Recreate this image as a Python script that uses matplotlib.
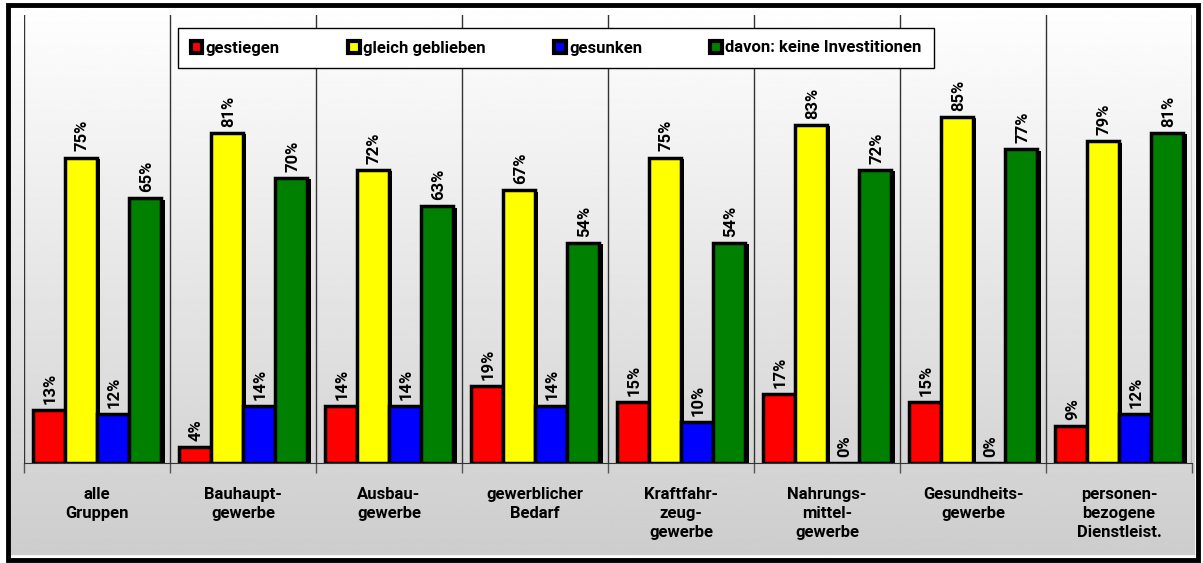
import matplotlib.pyplot as plt
import matplotlib.patheffects as pe
import numpy as np
from matplotlib.patches import Rectangle, Patch

plt.rcParams['font.family'] = ['Roboto', 'DejaVu Sans']
plt.rcParams['font.weight'] = 'bold'

categories = ['alle\nGruppen', 'Bauhaupt-\ngewerbe', 'Ausbau-\ngewerbe', 'gewerblicher\nBedarf',
              'Kraftfahr-\nzeug-\ngewerbe', 'Nahrungs-\nmittel-\ngewerbe', 'Gesundheits-\ngewerbe',
              'personen-\nbezogene\nDienstleist.']
series_names = ['gestiegen', 'gleich geblieben', 'gesunken', 'davon: keine Investitionen']
gestiegen = [13, 4, 14, 19, 15, 17, 15, 9]
gleich = [75, 81, 72, 67, 75, 83, 85, 79]
gesunken = [12, 14, 14, 14, 10, 0, 0, 12]
keine_inv = [65, 70, 63, 54, 54, 72, 77, 81]
colors = ['#ff0000', '#ffff00', '#0000ff', '#008000']

fig = plt.figure(figsize=(12.03, 5.63), dpi=100)

# background gradient over the whole figure
bg = fig.add_axes([0, 0, 1, 1], zorder=-10)
grad = np.linspace(1.0, 0.80, 256).reshape(-1, 1)
bg.imshow(grad, cmap='gray', vmin=0, vmax=1, aspect='auto', extent=[0, 1, 0, 1])
bg.set_xlim(0, 1)
bg.set_ylim(0, 1)
bg.axis('off')
# white margin outside frame + thick frame
bg.add_patch(Rectangle((0, 0), 1, 1, fill=False, ec='white', lw=12, transform=bg.transAxes))
bg.add_patch(Rectangle((8/1203, 3/563), 1190/1203, 555/563, fill=False, ec='black', lw=3.5,
                       transform=bg.transAxes))

ax = fig.add_axes([24/1203, 1-463/563, 1168/1203, 448/563])
ax.set_facecolor('none')

n = len(categories)
x = np.arange(n)
w = 0.22
data = [gestiegen, gleich, gesunken, keine_inv]
shadow = [pe.SimplePatchShadow(offset=(2.5, -1), shadow_rgbFace='black', alpha=1), pe.Normal()]
for i, vals in enumerate(data):
    pos = x + (i - 1.5) * w
    bars = ax.bar(pos, vals, width=w, color=colors[i], edgecolor='black', linewidth=2.5,
                  zorder=3, label=series_names[i])
    for b in bars:
        b.set_path_effects(shadow)
    for p, v in zip(pos, vals):
        ax.text(p + 0.01, v + 1.5, f'{v}%', rotation=90, ha='center', va='bottom',
                fontsize=12, fontweight='bold', zorder=4)

ax.set_xlim(-0.5, n - 0.5)
ax.set_ylim(0, 110)
for b in np.arange(-0.5, n, 1):
    ax.axvline(b, color='#333333', lw=1, zorder=1)
ax.set_xticks(np.arange(-0.5, n, 1))
ax.set_xticklabels([])
ax.tick_params(axis='x', length=7, width=1, color='#555555', direction='out')
ax.set_yticks([])
for s in ['top', 'left', 'right']:
    ax.spines[s].set_visible(False)
ax.spines['bottom'].set_color('#333333')
for i, c in enumerate(categories):
    ax.text(i, -6, c, ha='center', va='top', fontsize=12, fontweight='bold',
            linespacing=1.3, transform=ax.transData)

handles = [Patch(facecolor=colors[i], edgecolor='black', linewidth=3) for i in range(4)]
leg = fig.legend(handles, series_names, loc='upper left', bbox_to_anchor=(178/1203, 1-28/563),
                 ncol=4, frameon=True, fontsize=12, handlelength=0.7, handleheight=0.7,
                 handletextpad=0.2, columnspacing=4.1, borderpad=0.75, borderaxespad=0,
                 fancybox=False)
leg.get_frame().set_edgecolor('black')
leg.get_frame().set_linewidth(1)
leg.get_frame().set_facecolor('white')
leg.get_frame().set_alpha(1)

fig.savefig('out.png', dpi=100)
